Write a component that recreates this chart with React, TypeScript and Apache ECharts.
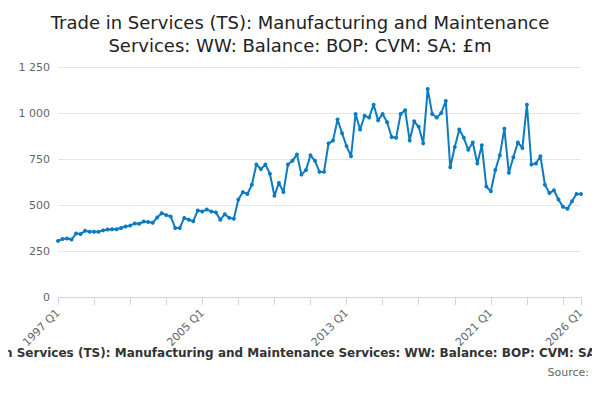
import { useRef, useEffect } from 'react';
import * as echarts from 'echarts';

const startYear = 1997;
const values = [
  305, 315, 318, 312, 345, 342, 360, 355, 355, 355, 362, 367, 368, 368, 375, 383,
  388, 400, 398, 410, 408, 403, 432, 455, 445, 438, 375, 375, 430, 420, 412, 470,
  465, 475, 465, 460, 420, 450, 430, 425, 530, 570, 560, 610, 720, 695, 720, 670,
  550, 620, 570, 720, 740, 775, 665, 690, 770, 740, 680, 680, 835, 850, 965, 890,
  820, 765, 995, 910, 985, 975, 1045, 960, 995, 950, 870, 865, 995, 1015, 850, 955,
  925, 835, 1130, 995, 975, 1000, 1065, 705, 815, 910, 865, 800, 840, 725, 825, 600,
  575, 690, 770, 915, 675, 760, 840, 810, 1045, 720, 725, 765, 610, 565, 580, 530,
  490, 480, 520, 560, 560,
];
const categories = values.map((_, i) => `${startYear + Math.floor(i / 4)} Q${(i % 4) + 1}`);
const titleText = 'Trade in Services (TS): Manufacturing and Maintenance\nServices: WW: Balance: BOP: CVM: SA: £m';
const footerText = 'Trade in Services (TS): Manufacturing and Maintenance Services: WW: Balance: BOP: CVM: SA: £m';

const font = '"DejaVu Sans", sans-serif';

export default function App() {
  const containerRef = useRef<HTMLDivElement>(null);

  useEffect(() => {
    if (!containerRef.current) return;
    const chart = echarts.init(containerRef.current, undefined, { renderer: 'svg' });
    const last = values.length - 1;
    chart.setOption({
      animation: false,
      backgroundColor: '#fff',
      textStyle: { fontFamily: font },
      title: {
        text: titleText,
        left: 'center',
        top: 6,
        textStyle: { fontSize: 18, fontWeight: 'normal', color: '#222', lineHeight: 23, fontFamily: font },
      },
      grid: { left: 58, right: 19, top: 67, bottom: 103 },
      xAxis: {
        type: 'category',
        data: categories,
        boundaryGap: false,
        axisLine: { lineStyle: { color: '#ccd6eb' } },
        axisTick: {
          length: 8,
          lineStyle: { color: '#ccd6eb' },
          interval: (i: number) => i % 8 === 0 || i === last,
        },
        axisLabel: {
          rotate: 45,
          color: '#666',
          fontSize: 11,
          margin: 14,
          fontFamily: font,
          interval: (i: number) => i % 32 === 0 || i === last,
        },
        splitLine: { show: false },
      },
      yAxis: {
        type: 'value',
        min: 0,
        max: 1250,
        interval: 250,
        axisLabel: {
          color: '#666',
          fontSize: 11,
          fontFamily: font,
          formatter: (v: number) => v.toString().replace(/\B(?=(\d{3})+(?!\d))/g, ' '),
        },
        splitLine: { lineStyle: { color: '#e6e6e6' } },
      },
      series: [
        {
          type: 'line',
          data: values,
          symbol: 'circle',
          symbolSize: 4,
          showSymbol: true,
          showAllSymbol: true,
          itemStyle: { color: '#0c7bc0' },
          lineStyle: { width: 2, color: '#0c7bc0' },
        },
      ],
      graphic: [
        {
          type: 'text',
          x: 292,
          y: 353,
          style: {
            text: footerText,
            fontSize: 12,
            fontWeight: 'bold',
            fill: '#333',
            fontFamily: font,
            align: 'center',
            verticalAlign: 'middle',
          },
        },
        {
          type: 'text',
          x: 589,
          y: 372,
          style: {
            text: 'Source:',
            fontSize: 11,
            fill: '#666',
            fontFamily: font,
            align: 'right',
            verticalAlign: 'middle',
          },
        },
      ],
    });
    return () => chart.dispose();
  }, []);

  return <div ref={containerRef} style={{ width: 600, height: 400, margin: -8 }} />;
}
